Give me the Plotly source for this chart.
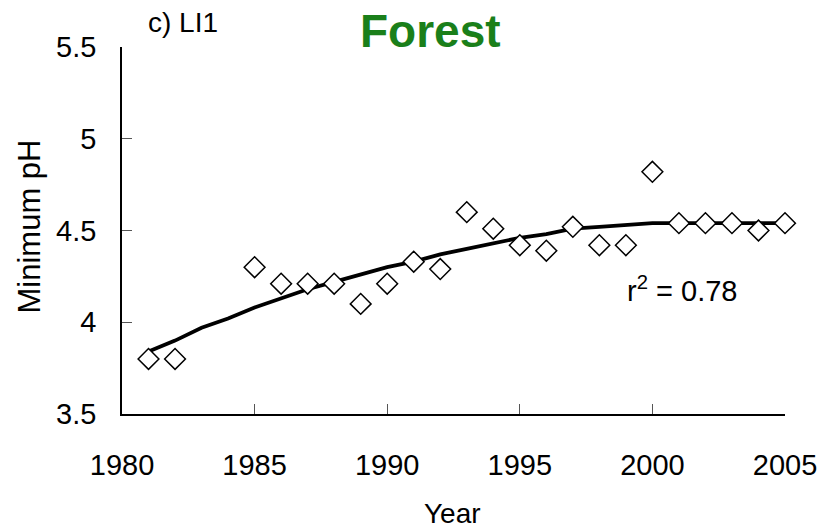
import plotly.graph_objects as go

years = [1981, 1982, 1985, 1986, 1987, 1988, 1989, 1990, 1991, 1992, 1993, 1994,
         1995, 1996, 1997, 1998, 1999, 2000, 2001, 2002, 2003, 2004, 2005]
min_ph = [3.80, 3.80, 4.30, 4.21, 4.21, 4.21, 4.10, 4.21, 4.33, 4.29, 4.60, 4.51,
          4.42, 4.39, 4.52, 4.42, 4.42, 4.82, 4.54, 4.54, 4.54, 4.50, 4.54]

trend_years = [1981, 1982, 1983, 1984, 1985, 1986, 1987, 1988, 1989, 1990, 1991, 1992,
               1993, 1994, 1995, 1996, 1997, 1998, 1999, 2000, 2001, 2002, 2003, 2004, 2005]
trend_ph = [3.84, 3.90, 3.97, 4.02, 4.08, 4.13, 4.18, 4.22, 4.26, 4.30, 4.33, 4.37,
            4.40, 4.43, 4.46, 4.48, 4.51, 4.52, 4.53, 4.54, 4.54, 4.54, 4.54, 4.54, 4.54]

x_ticks = [1980, 1985, 1990, 1995, 2000, 2005]
y_ticks = [3.5, 4, 4.5, 5, 5.5]

FONT = "Liberation Sans, Arial, sans-serif"

fig = go.Figure()
fig.add_trace(go.Scatter(x=trend_years, y=trend_ph, mode="lines",
                         line=dict(color="black", width=3.8), cliponaxis=False,
                         showlegend=False))
fig.add_trace(go.Scatter(x=years, y=min_ph, mode="markers",
                         marker=dict(symbol="diamond", size=16, color="white",
                                     line=dict(color="black", width=1.5)),
                         cliponaxis=False, showlegend=False))

fig.update_layout(
    width=829, height=531,
    margin=dict(l=122, r=34, t=47, b=117),
    plot_bgcolor="white", paper_bgcolor="white",
    font=dict(family=FONT, size=28, color="black"),
    xaxis=dict(range=[1980, 2005], tickvals=x_ticks, ticktext=[str(v) for v in x_ticks],
               ticks="inside", ticklen=10, tickcolor="#555", tickwidth=1,
               showline=True, linecolor="black", linewidth=1.5,
               showgrid=False, zeroline=False, ticklabelstandoff=24,
               tickfont=dict(size=29)),
    yaxis=dict(range=[3.5, 5.5], tickvals=y_ticks, ticktext=["3.5", "4", "4.5", "5", "5.5"],
               ticks="inside", ticklen=10, tickcolor="#555", tickwidth=1,
               showline=True, linecolor="black", linewidth=1.5,
               showgrid=False, zeroline=False, ticklabelstandoff=18,
               tickfont=dict(size=29)),
    annotations=[
        dict(text="Minimum pH", xref="paper", yref="paper", x=-0.1397, y=0.512,
             textangle=-90, showarrow=False, font=dict(size=31),
             xanchor="center", yanchor="middle"),
        dict(text="Year", xref="paper", yref="paper", x=0.499, y=-0.272,
             showarrow=False, font=dict(size=28), xanchor="center", yanchor="middle"),
        dict(text="c) LI1", xref="paper", yref="paper", x=0.036, y=1.068,
             showarrow=False, font=dict(size=28), xanchor="left", yanchor="middle"),
        dict(text="<b>Forest</b>", xref="paper", yref="paper", x=0.466, y=1.0436,
             showarrow=False, font=dict(size=46, color="#1a7f1a"),
             xanchor="center", yanchor="middle"),
        dict(text="r<sup>2</sup> = 0.78", xref="paper", yref="paper", x=0.845, y=0.34,
             showarrow=False, font=dict(size=29), xanchor="center", yanchor="middle"),
    ],
)

fig.write_html("out.html")
